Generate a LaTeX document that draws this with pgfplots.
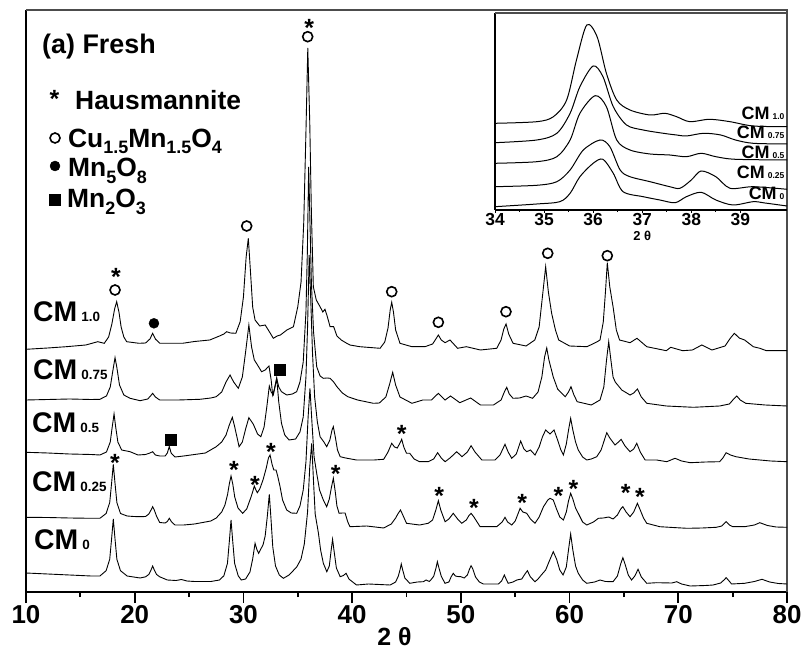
\documentclass[border=0pt]{standalone}
\usepackage{fontspec}
\setmainfont{Liberation Sans}
\usepackage{pgfplots}
\pgfplotsset{compat=1.18}
\newcommand{\fs}[1]{\fontsize{#1}{#1}\selectfont\bfseries}
\newcommand{\sub}[2][6bp]{\raisebox{-#1}{\fs{18}#2}}

\begin{document}
\begin{tikzpicture}
\path[use as bounding box] (0,0) rectangle (804bp,649bp);
% ---------------- main XRD panel ----------------
\begin{axis}[
  at={(26bp,57bp)}, anchor=south west,
  scale only axis, width=761bp, height=582bp,
  xmin=10, xmax=80, ymin=0, ymax=582,
  axis lines*=left,
  axis line style={line width=2.2bp, black},
  xtick={10,20,...,80}, ytick=\empty,
  minor x tick num=1,
  tick align=outside,
  major tick length=11bp, minor tick length=5bp,
  tick style={line width=1.8bp, black},
  /pgf/number format/assume math mode=true,
  xticklabel style={font=\fs{26}, inner sep=2bp},
  clip=false,
]
\draw[black!70, line width=1.3bp] (rel axis cs:0,1) -- (rel axis cs:1,1) -- (rel axis cs:1,0);

% CM 0
\addplot[black, line width=0.9bp] coordinates {
(10,19)(12,18)(14,17)(16,16)(16.8,16)(17.37,21.3)(17.7,32.7)(17.88,54)(18.03,73)(18.18,54)(18.36,32.7)(18.69,21.3)(19.3,16)(20.5,14)(21.0,15.2)(21.3,17.6)(21.5,22)(21.65,26)(21.8,22)(22.0,17.6)(22.3,15.2)(23.0,12)(23.8,11.5)(24.3,12.5)(24.8,11)(25.5,10.5)(27.0,10.5)(27.8,12)(28.2,16.2)(28.53,28.6)(28.71,51.5)(28.86,72)(29.01,51.5)(29.19,28.6)(29.52,16.2)(29.8,12)(30.2,13)(30.6,20)(30.85,33)(31.07,48.7)(31.25,42)(31.4,38.7)(31.6,43)(31.8,47)(32.0,56)(32.2,76)(32.38,97.7)(32.53,74)(32.7,45)(32.95,26)(33.3,17)(33.67,13.7)(34.2,17)(34.9,25)(35.3,33)(35.6,48)(35.9,80)(36.1,125)(36.28,148.7)(36.45,110)(36.6,78)(36.9,58.7)(37.1,42)(37.35,28.7)(37.67,20.3)(37.9,26)(38.05,40)(38.2,52.7)(38.35,40)(38.55,24)(38.9,15.3)(39.2,16.5)(39.44,18.7)(39.7,13)(40.4,7)(41.5,8)(42.5,7.5)(43.5,7)(44.0,10)(44.25,16)(44.4,22)(44.52,28)(44.65,22)(44.85,14)(45.3,8.7)(46.0,10)(46.55,10.3)(46.8,12)(47.1,10.5)(47.2,11.6)(47.5,15.7)(47.7,23.4)(47.84,30.3)(48.0,23.4)(48.2,15.7)(48.54,8.7)(48.9,10)(49.1,15)(49.3,18.7)(49.5,16)(49.7,15.5)(50.0,15.3)(50.3,14)(50.6,17)(50.8,23)(50.94,26.3)(51.1,23)(51.35,15)(51.7,10)(52.07,8)(53.45,8)(53.75,11)(54.0,17)(54.2,12)(54.35,8.7)(54.8,10)(55.14,12)(55.6,13)(55.9,18)(56.12,21.3)(56.4,15)(56.82,10.3)(57.1,13)(57.4,17)(57.8,22)(58.1,30)(58.5,40.3)(58.8,33)(59.1,22)(59.4,17)(59.7,25)(59.9,42)(60.1,58)(60.3,42)(60.55,26)(60.8,18.7)(61.2,12)(61.58,8.7)(62.3,10)(62.8,12)(63.3,10.5)(64.0,10.3)(64.4,16)(64.7,28)(64.9,34.3)(65.1,28)(65.4,17)(65.7,12)(66.0,16)(66.3,22.7)(66.6,15)(67.1,8.7)(68.0,9.3)(69.4,9)(69.86,10.3)(70.3,8)(71.1,6)(72.5,6.5)(73.2,7)(73.9,9)(74.2,12)(74.4,14.3)(74.6,12)(74.9,8)(76.1,8.7)(77.0,10.5)(77.7,12.7)(78.4,10)(79.2,8.5)(80,8)
};
% CM 0.25
\addplot[black, line width=0.9bp] coordinates {
(10,74.7)(12,74.5)(14,74)(16,73.7)(16.8,73.7)(17.37,78.5)(17.7,89.4)(17.88,109.6)(18.03,127.7)(18.18,109.6)(18.36,89.4)(18.69,78.5)(19.3,76)(19.9,75.5)(20.5,75.3)(21.0,75.5)(21.3,78)(21.5,82)(21.65,85.3)(21.8,82)(22.0,76)(22.3,69.5)(22.8,69)(23.0,70.5)(23.18,73.7)(23.4,70)(23.7,67)(24.5,67)(25.5,68)(26.5,70)(27.0,71)(27.5,74)(28.0,80)(28.3,87)(28.55,98)(28.7,108)(28.86,116)(29.02,108)(29.2,95)(29.5,84)(29.93,78.7)(30.3,83)(30.7,95)(30.9,102)(31.0,106)(31.15,102)(31.28,99.3)(31.5,103)(31.8,112)(32.1,124)(32.3,134)(32.45,137)(32.65,127)(32.8,122)(33.0,122)(33.15,116)(33.37,105.3)(33.6,92)(33.98,82)(34.4,79)(34.9,78.7)(35.2,86)(35.5,102)(35.75,130)(35.95,175)(36.12,203.7)(36.3,170)(36.5,135)(36.74,118.7)(37.0,102)(37.35,92)(37.66,85.3)(37.9,93)(38.1,105)(38.27,113.7)(38.45,100)(38.6,86)(38.8,78.7)(39.1,79)(39.35,79)(39.6,70)(39.8,65.3)(41.34,66)(42.9,64)(43.6,68)(44.0,74)(44.2,78)(44.45,82)(44.7,76)(45.0,68.7)(46.2,67)(47.0,68.7)(47.4,72)(47.7,82)(47.93,91.3)(48.15,82)(48.55,70.3)(48.9,73)(49.3,78.7)(49.7,73)(50.08,68.7)(50.5,72)(50.75,76.5)(50.94,78.7)(51.2,75)(51.77,65.3)(53.3,65.3)(53.8,70)(54.06,74.7)(54.3,70)(54.68,67)(55.0,71)(55.25,78)(55.45,83.7)(55.7,80)(56.06,78.7)(56.4,73)(56.82,68.7)(57.2,75)(57.6,85.3)(58.0,92)(58.2,93.7)(58.5,92)(58.8,83)(59.1,75)(59.43,72)(59.7,80)(59.9,91)(60.1,98.7)(60.3,93)(60.55,84)(60.8,78.7)(61.2,70)(61.58,67)(62.2,70)(62.65,73.7)(63.1,74)(63.6,75)(64.0,73)(64.4,77)(64.7,83)(64.9,85.3)(65.2,80)(65.56,75.3)(65.9,80)(66.24,88.7)(66.5,82)(66.8,74)(67.1,68.7)(68.3,65.3)(69.5,64.5)(70.8,63.7)(72.2,64)(73.5,64.7)(74.0,66)(74.4,70.3)(74.7,67)(75.0,65.3)(76.1,65.3)(77.0,67)(77.5,69.3)(78.2,66.5)(79.0,65)(80,64.7)
};
% CM 0.5
\addplot[black, line width=0.9bp] coordinates {
(10,139.7)(12,139)(14,138)(16,137.5)(16.8,137)(17.4,140)(17.75,150)(17.93,165)(18.1,178)(18.25,165)(18.45,150)(18.8,142)(19.57,140.3)(20.3,137)(21.0,137.5)(21.4,139)(21.65,140.3)(21.9,137)(22.3,136)(22.8,136)(23.0,139)(23.18,145.5)(23.35,139)(23.7,135)(24.5,136)(25.5,137.5)(26.5,139)(27.5,145.3)(28.0,150)(28.4,157)(28.7,167)(28.98,174.7)(29.2,165)(29.6,145.3)(29.9,150)(30.2,163)(30.5,174.3)(30.9,168)(31.3,158)(31.6,155.3)(31.9,165)(32.15,185)(32.38,206)(32.55,200)(32.75,197)(32.9,205)(33.06,213.7)(33.25,190)(33.5,168.7)(33.8,157)(34.2,152)(34.8,153)(35.2,160)(35.5,175)(35.75,215)(35.9,265)(36.05,337)(36.2,290)(36.35,240)(36.55,195)(36.8,170)(37.05,155.3)(37.4,150)(37.66,145.3)(37.95,152)(38.15,162)(38.27,165.3)(38.45,155)(38.65,142)(38.9,135.3)(39.4,134)(40.4,132)(42.0,132)(42.9,132.7)(43.3,140)(43.64,148.7)(43.9,145)(44.15,144)(44.4,149)(44.56,152.7)(44.75,145)(45.0,138.7)(45.3,138.7)(45.7,133)(46.2,130.3)(47.0,130.3)(47.5,133)(47.86,139.3)(48.2,134)(48.55,130.3)(49.0,134)(49.62,140.3)(50.1,135.3)(50.6,140)(50.94,146.3)(51.3,140)(51.93,132)(53.15,132)(53.6,137)(54.06,147.7)(54.35,140)(54.68,133.7)(55.1,138)(55.5,151)(55.8,143)(56.06,140.3)(56.4,142)(56.82,137)(57.2,145)(57.5,155)(57.8,162)(58.2,158)(58.57,162)(58.9,152)(59.2,142)(59.43,137)(59.7,148)(59.92,163)(60.1,173.7)(60.3,162)(60.55,150)(60.8,142)(61.2,135)(61.58,132)(62.0,133)(62.5,135.3)(62.9,142)(63.2,152)(63.42,159.3)(63.7,154)(64.18,147)(64.5,150)(64.74,152.7)(65.1,146)(65.56,140.3)(65.9,143)(66.18,148.7)(66.5,140)(66.95,132)(68.0,132)(68.94,130.3)(69.7,133.7)(70.3,131)(71.1,129.3)(72.5,130)(73.8,130.3)(74.1,134)(74.4,139.3)(74.8,137)(75.3,135.3)(76.5,133)(77.5,132)(78.5,131)(80,130.3)
};
% CM 0.75
\addplot[black, line width=0.9bp] coordinates {
(10,192)(12,192.5)(14,193)(16,192.5)(16.8,192.7)(17.4,196)(17.75,205)(18.0,222)(18.19,234.3)(18.35,225)(18.6,207)(19.0,197)(19.57,193.7)(20.5,191.3)(21.2,193)(21.45,196)(21.65,198.7)(21.9,195)(22.3,192)(24.0,192)(26.0,192.7)(27.0,194)(27.5,195.3)(28.0,200)(28.4,210)(28.77,217)(29.1,210)(29.53,203.7)(29.9,215)(30.2,240)(30.5,267)(30.75,245)(31.0,232)(31.2,228.7)(31.67,220.3)(32.0,222)(32.35,226)(32.55,212)(32.69,197)(32.85,203)(33.06,213.7)(33.25,205)(33.5,200.3)(33.98,197)(34.5,198)(34.9,200.3)(35.2,210)(35.5,230)(35.75,280)(35.88,340)(36.0,425)(36.12,370)(36.25,310)(36.45,260)(36.74,225.3)(37.05,216)(37.35,213.7)(37.7,214)(37.97,213.7)(38.3,210)(38.6,205.3)(39.1,199)(39.6,195.3)(40.5,192)(41.95,188.7)(42.5,189)(43.1,195)(43.45,208)(43.73,219.7)(44.0,207)(44.4,195)(45.5,188.7)(46.5,192)(47.3,192)(47.93,198.7)(48.55,192)(49.05,196)(49.9,189.3)(50.9,194)(51.8,187)(53.0,187)(53.7,192)(54.0,200)(54.22,204.7)(54.45,198)(54.8,193.7)(55.4,194)(56.0,196)(56.6,193.7)(57.1,200)(57.45,215)(57.7,235)(57.9,244)(58.1,232)(58.5,215)(58.9,203)(59.6,195.3)(59.9,200)(60.13,205.3)(60.4,197)(60.7,190.3)(62.0,187)(62.8,192)(63.15,205)(63.4,232)(63.6,250.3)(63.8,232)(64.0,215)(64.2,210)(64.8,202)(65.56,197)(65.9,199)(66.24,203)(66.6,195)(67.1,188.7)(68.9,186)(71.4,184.7)(73.8,186)(74.7,188)(75.1,193)(75.38,196)(75.7,192)(76.2,188.7)(78.0,187)(80,186)
};
% CM 1.0
\addplot[black, line width=0.9bp] coordinates {
(10,242.7)(12,244)(13.7,245.3)(15.5,247)(16.6,250.3)(17.2,248.7)(17.6,255)(17.9,268)(18.15,283)(18.34,290.3)(18.55,280)(18.75,265)(19.0,255)(19.26,250.3)(20.4,248.7)(21.0,249)(21.4,253)(21.65,258.7)(21.9,253)(22.3,248.7)(24.4,248.7)(25.5,250.5)(26.9,252)(27.8,256)(28.2,258)(28.46,260.3)(28.8,259)(29.3,258.7)(29.7,270.3)(30.0,295)(30.25,335)(30.45,353.7)(30.65,320)(30.85,285)(31.07,272)(31.5,266)(32.0,267)(32.4,260)(32.75,253.7)(33.1,256)(33.4,257)(34.0,262)(34.6,265.3)(35.0,285.3)(35.3,310)(35.55,370)(35.75,460)(35.92,544)(36.1,470)(36.25,380)(36.43,305.3)(36.7,292)(37.05,285.3)(37.3,280)(37.5,282.7)(37.7,276)(37.97,265.3)(38.3,265.3)(38.6,256)(39.0,252)(39.5,248.7)(39.8,247)(40.7,245.3)(42.57,243.7)(43.0,250)(43.3,264)(43.5,282)(43.64,289.7)(43.8,280)(44.0,262)(44.4,248.7)(45.5,245.3)(46.7,245.3)(47.4,248)(47.7,253)(47.93,257)(48.2,252)(48.55,249.3)(49.0,252)(49.7,243.7)(50.5,245.3)(51.8,242)(53.3,243.7)(53.7,252)(53.95,263)(54.16,268)(54.4,258)(54.8,248.7)(56.0,246)(56.8,252)(57.2,265)(57.5,295)(57.8,325.3)(58.05,300)(58.35,278.7)(58.7,262)(59.0,252)(60.0,246)(61.6,245.3)(62.5,250)(62.8,252)(63.1,270)(63.3,300)(63.47,329.3)(63.7,305)(64.0,285.3)(64.3,262)(64.6,252)(65.56,249.3)(66.2,253.7)(67.1,245.3)(68.9,241.3)(69.3,244.7)(70.4,241.3)(71.3,242)(72.16,247)(73.1,242)(74.3,246)(74.8,254)(75.16,258.7)(75.6,254)(76.1,252)(76.9,245.3)(77.5,243.7)(78.1,241.3)(80,241.3)
};

% phase markers
\addplot[only marks, mark=o, mark size=5bp, mark options={line width=1.6bp, black}] coordinates {
(18.19,302)(30.3,366)(35.91,555.3)(43.64,300.3)(47.93,269.7)(54.15,280.3)(57.99,338.7)(63.47,336.3)(12.67,454)};
\addplot[only marks, mark=*, mark size=5bp, black] coordinates {(21.77,268.7)(12.67,426)};
\addplot[only marks, mark=square*, mark size=5.5bp, black] coordinates {(33.36,222)(23.34,152)(12.67,392.7)};
\addplot[only marks, mark=text, text mark={*}, text mark as node=true,
  text mark style={font=\fs{25}, inner sep=0pt, anchor=center}] coordinates {
(18.28,315)(36.06,564.3)(18.19,128.7)(29.13,122)(31.07,107)(32.54,140.3)(38.49,117.7)(44.56,157.7)
(48.02,96.3)(51.2,83.7)(55.65,88.7)(58.97,96.3)(60.35,103)(65.17,98.7)(66.48,94.7)(12.62,493)};

% legend text and title
\node[anchor=base west, inner sep=0pt, font=\fs{27}] at (axis cs:11.47,538) {(a) Fresh};
\node[anchor=base west, inner sep=0pt, font=\fs{26.5}] at (axis cs:14.51,482) {Hausmannite};
\node[anchor=base west, inner sep=0pt, font=\fs{26.5}] at (axis cs:13.86,444) {Cu\sub{1.5}Mn\sub{1.5}O\sub{4}};
\node[anchor=base west, inner sep=0pt, font=\fs{26.5}] at (axis cs:13.86,415) {Mn\sub[7bp]{5}O\sub[7bp]{8}};
\node[anchor=base west, inner sep=0pt, font=\fs{26.5}] at (axis cs:13.77,384) {Mn\sub[7bp]{2}O\sub[7bp]{3}};

% sample labels
\node[anchor=base west, inner sep=0pt] at (axis cs:10.64,270) {\fs{28.5}CM\hspace{4bp}\fs{13.5}1.0};
\node[anchor=base west, inner sep=0pt] at (axis cs:10.64,212) {\fs{28.5}CM\hspace{4bp}\fs{13.5}0.75};
\node[anchor=base west, inner sep=0pt] at (axis cs:10.55,159) {\fs{28.5}CM\hspace{4bp}\fs{13.5}0.5};
\node[anchor=base west, inner sep=0pt] at (axis cs:10.55,100) {\fs{28.5}CM\hspace{4bp}\fs{13.5}0.25};
\node[anchor=base west, inner sep=0pt] at (axis cs:10.74,42) {\fs{28.5}CM\hspace{4bp}\fs{13.5}0};

\node[anchor=base, inner sep=0pt, font=\fs{25}] at (axis cs:43.9,0) [yshift=-53bp] {2 θ};
\end{axis}

% ---------------- inset: 34-40 degrees ----------------
\begin{axis}[
  at={(495bp,439bp)}, anchor=south west,
  scale only axis, width=292bp, height=197bp,
  xmin=34, xmax=39.95, ymin=0, ymax=197,
  axis lines*=left,
  axis line style={line width=1.5bp, black},
  xtick={34,...,39}, ytick=\empty,
  minor x tick num=1,
  tick align=outside,
  major tick length=3bp, minor tick length=2bp,
  tick style={line width=1bp, black},
  /pgf/number format/assume math mode=true,
  xticklabel style={font=\fs{17.5}, inner sep=0.5bp},
  clip=false,
]
\draw[black!70, line width=1.2bp] (rel axis cs:0,1) -- (rel axis cs:1,1);
\addplot[black, line width=1bp, smooth] coordinates {
(34,3.3)(34.85,6)(35.32,8.3)(35.53,16.7)(35.73,33.3)(36.0,46.7)(36.2,50.7)(36.41,36.7)(36.61,18.3)(37.02,13.3)(37.36,10)(37.67,7.3)(37.9,13.3)(38.2,17.7)(38.5,10)(38.85,5)(39.26,8.3)(39.5,7)(39.95,4)};
\addplot[black, line width=1bp, smooth] coordinates {
(34,23.3)(34.85,24.7)(35.26,28.3)(35.53,40)(35.8,60)(36.14,70)(36.34,63.3)(36.55,40)(36.75,33.3)(37.16,28.3)(37.56,23.3)(37.77,21.7)(38.0,30)(38.2,39)(38.5,33.3)(38.79,21.7)(39.26,23.3)(39.95,20.7)};
\addplot[black, line width=1bp, smooth] coordinates {
(34,46.7)(34.85,48.3)(35.26,53.3)(35.53,70)(35.73,96.7)(36.04,114.3)(36.27,103.3)(36.48,70)(36.75,60)(37.16,56)(37.56,55)(37.9,53.3)(38.2,56.7)(38.5,53.3)(38.9,50.7)(39.95,50)};
\addplot[black, line width=1bp, smooth] coordinates {
(34,67.3)(34.85,70)(35.26,76.7)(35.53,96.7)(35.73,123.3)(36.0,144)(36.2,133.3)(36.41,103.3)(36.68,85)(37.02,80)(37.43,76.7)(37.7,75)(37.9,74)(38.25,76.7)(38.6,75)(38.9,70)(39.26,66.7)(39.95,66)};
\addplot[black, line width=1bp, smooth] coordinates {
(34,86.7)(34.85,88.3)(35.19,93.3)(35.46,110)(35.66,150)(35.87,185)(36.08,173.3)(36.27,136.7)(36.48,110)(36.75,100)(37.16,95)(37.46,96.7)(37.7,93.3)(37.97,88.3)(38.37,90.7)(38.79,88.3)(39.26,84)(39.95,83.3)};

\node[anchor=base east, inner sep=0pt] at (axis cs:39.9,90) {\fs{18}CM\hspace{3bp}\fs{8.5}1.0};
\node[anchor=base east, inner sep=0pt] at (axis cs:39.9,71) {\fs{18}CM\hspace{3bp}\fs{8.5}0.75};
\node[anchor=base east, inner sep=0pt] at (axis cs:39.9,51) {\fs{18}CM\hspace{3bp}\fs{8.5}0.5};
\node[anchor=base east, inner sep=0pt] at (axis cs:39.9,31) {\fs{18}CM\hspace{3bp}\fs{8.5}0.25};
\node[anchor=base east, inner sep=0pt] at (axis cs:39.9,10) {\fs{18}CM\hspace{3bp}\fs{8.5}0};
\node[inner sep=0pt, font=\fs{13}] at (axis cs:37.0,0) [yshift=-26bp] {2 θ};
\end{axis}
\end{tikzpicture}
\end{document}
